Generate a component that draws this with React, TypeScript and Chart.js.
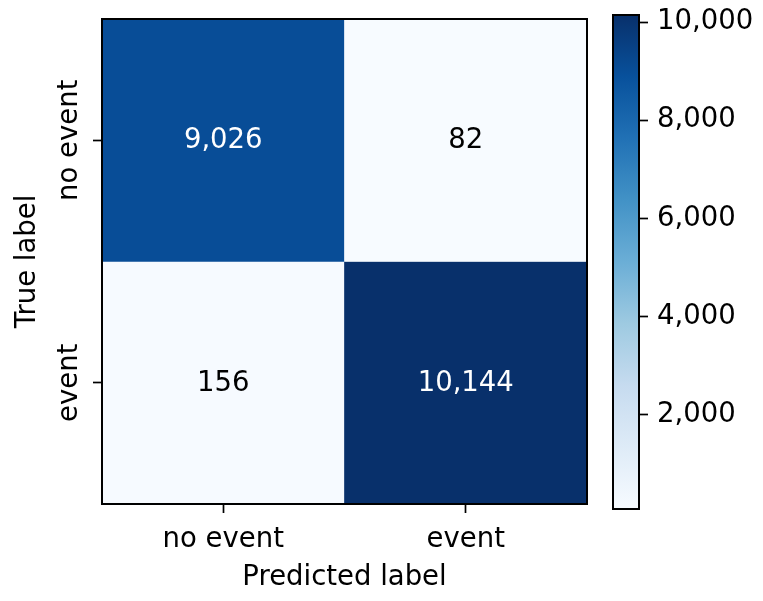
import React, { useEffect, useRef } from 'react';
import { Chart, registerables } from 'chart.js';

Chart.register(...registerables);

// ---- data ----
const predictedLabels = ['no event', 'event'];
const trueLabels = ['no event', 'event'];
const rowNoEvent = [9026, 82];
const rowEvent = [156, 10144];
const matrixRows = [rowNoEvent, rowEvent];
const colorbarTicks = [2000, 4000, 6000, 8000, 10000];
const xTitle = 'Predicted label';
const yTitle = 'True label';

const BLUES = ['#f7fbff', '#deebf7', '#c6dbef', '#9ecae1', '#6baed6', '#4292c6', '#2171b5', '#08519c', '#08306b'];
const FONT = 'DejaVu Sans';
const FS = 27.5;

const allVals = matrixRows.flat();
const vmin = Math.min(...allVals);
const vmax = Math.max(...allVals);

function hexToRgb(h: string) {
  const n = parseInt(h.slice(1), 16);
  return [(n >> 16) & 255, (n >> 8) & 255, n & 255];
}
function blues(t: number) {
  t = Math.max(0, Math.min(1, t));
  const p = t * (BLUES.length - 1);
  const i = Math.min(BLUES.length - 2, Math.floor(p));
  const f = p - i;
  const a = hexToRgb(BLUES[i]);
  const b = hexToRgb(BLUES[i + 1]);
  const c = a.map((v, k) => Math.round(v + (b[k] - v) * f));
  return `rgb(${c[0]},${c[1]},${c[2]})`;
}
const norm = (v: number) => (v - vmin) / (vmax - vmin);
const fmt = (v: number) => String(v).replace(/\B(?=(\d{3})+(?!\d))/g, ',');

export default function App() {
  const mainRef = useRef<HTMLCanvasElement>(null);
  const barRef = useRef<HTMLCanvasElement>(null);

  useEffect(() => {
    const annot = {
      id: 'annot',
      afterDraw(chart: any) {
        const { ctx, chartArea: ca, scales } = chart;
        const xs = scales.x;
        const ys = scales.y;
        ctx.save();
        // frame
        ctx.strokeStyle = '#000';
        ctx.lineWidth = 2;
        ctx.strokeRect(ca.left, ca.top, ca.right - ca.left, ca.bottom - ca.top);
        ctx.font = `${FS}px "${FONT}"`;
        // cell text
        const mid = (vmin + vmax) / 2;
        ctx.textAlign = 'center';
        ctx.textBaseline = 'alphabetic';
        matrixRows.forEach((row, r) => {
          row.forEach((v, c) => {
            const x = xs.getPixelForValue(c);
            const y = ys.getPixelForValue(r);
            ctx.fillStyle = v > mid ? '#ffffff' : '#000000';
            ctx.fillText(fmt(v), x, y + 8);
          });
        });
        ctx.fillStyle = '#000';
        // x tick labels
        predictedLabels.forEach((lab, c) => {
          ctx.fillText(lab, xs.getPixelForValue(c), ca.bottom + 43);
        });
        // x title
        ctx.fillText(xTitle, (ca.left + ca.right) / 2, ca.bottom + 81);
        // y tick labels (rotated)
        trueLabels.forEach((lab, r) => {
          ctx.save();
          ctx.translate(ca.left - 25, ys.getPixelForValue(r));
          ctx.rotate(-Math.PI / 2);
          ctx.fillText(lab, 0, 0);
          ctx.restore();
        });
        // y title
        ctx.save();
        ctx.translate(ca.left - 67, (ca.top + ca.bottom) / 2);
        ctx.rotate(-Math.PI / 2);
        ctx.fillText(yTitle, 0, 0);
        ctx.restore();
        ctx.restore();
      },
    };

    const tickGrid = {
      drawOnChartArea: false,
      drawTicks: true,
      tickLength: 9,
      tickColor: '#000',
      tickWidth: 1.7,
    };

    const main = new Chart(mainRef.current as HTMLCanvasElement, {
      type: 'bar',
      data: {
        labels: predictedLabels,
        datasets: matrixRows.map((row, r) => ({
          label: trueLabels[r],
          data: row.map(() => [r - 0.5, r + 0.5]),
          backgroundColor: row.map((v) => blues(norm(v))),
          borderWidth: 0,
          grouped: false,
          barPercentage: 1,
          categoryPercentage: 1,
        })) as any,
      },
      options: {
        animation: false,
        responsive: false,
        maintainAspectRatio: false,
        layout: { padding: { left: 0, top: 19, right: 13, bottom: 0 } },
        plugins: { legend: { display: false }, tooltip: { enabled: false } },
        scales: {
          x: {
            type: 'category',
            offset: true,
            grid: { ...tickGrid, offset: false },
            border: { display: false },
            ticks: { display: false },
            afterFit: (s: any) => {
              s.height = 97;
              s.paddingLeft = 0;
              s.paddingRight = 0;
            },
          },
          y: {
            type: 'linear',
            min: -0.5,
            max: 1.5,
            reverse: true,
            grid: tickGrid,
            border: { display: false },
            ticks: { display: false },
            afterBuildTicks: (s: any) => {
              s.ticks = [{ value: 0 }, { value: 1 }];
            },
            afterFit: (s: any) => {
              s.width = 102;
              s.paddingTop = 0;
              s.paddingBottom = 0;
            },
          },
        },
      } as any,
      plugins: [annot],
    });

    const cbFrame = {
      id: 'cbFrame',
      afterDatasetsDraw(chart: any) {
        const { ctx, chartArea: ca } = chart;
        ctx.save();
        ctx.strokeStyle = '#000';
        ctx.lineWidth = 2;
        ctx.strokeRect(ca.left, ca.top, ca.right - ca.left, ca.bottom - ca.top);
        ctx.restore();
      },
    };

    const cb = new Chart(barRef.current as HTMLCanvasElement, {
      type: 'bar',
      data: {
        labels: [''],
        datasets: [
          {
            data: [[vmin, vmax]],
            backgroundColor: (c: any) => {
              const chart = c.chart;
              if (!chart.chartArea) return BLUES[0];
              const ys = chart.scales.y;
              const y0 = ys.getPixelForValue(vmin);
              const y1 = ys.getPixelForValue(vmax);
              const g = chart.ctx.createLinearGradient(0, y0, 0, y1);
              BLUES.forEach((col, i) => g.addColorStop(i / (BLUES.length - 1), col));
              return g;
            },
            borderWidth: 0,
            barPercentage: 1,
            categoryPercentage: 1,
          },
        ] as any,
      },
      options: {
        animation: false,
        responsive: false,
        maintainAspectRatio: false,
        layout: { padding: { left: 13, top: 15, right: 0, bottom: 92 } },
        plugins: { legend: { display: false }, tooltip: { enabled: false } },
        scales: {
          x: { display: false },
          y: {
            type: 'linear',
            position: 'right',
            min: vmin,
            max: vmax,
            grid: tickGrid,
            border: { display: false },
            afterBuildTicks: (s: any) => {
              s.ticks = colorbarTicks.map((v) => ({ value: v }));
            },
            ticks: {
              color: '#000',
              padding: 9,
              font: { family: FONT, size: FS },
              callback: (v: any) => fmt(Number(v)),
            },
            afterFit: (s: any) => {
              s.width = 124;
              s.paddingTop = 0;
              s.paddingBottom = 0;
            },
          },
        },
      } as any,
      plugins: [cbFrame],
    });

    return () => {
      main.destroy();
      cb.destroy();
    };
  }, []);

  return (
    <div style={{ position: 'absolute', left: 0, top: 0, width: 763, height: 601, background: '#fff' }}>
      <canvas
        ref={mainRef}
        width={600}
        height={601}
        style={{ position: 'absolute', left: 0, top: 0, width: 600, height: 601 }}
      />
      <canvas
        ref={barRef}
        width={163}
        height={601}
        style={{ position: 'absolute', left: 600, top: 0, width: 163, height: 601 }}
      />
    </div>
  );
}
